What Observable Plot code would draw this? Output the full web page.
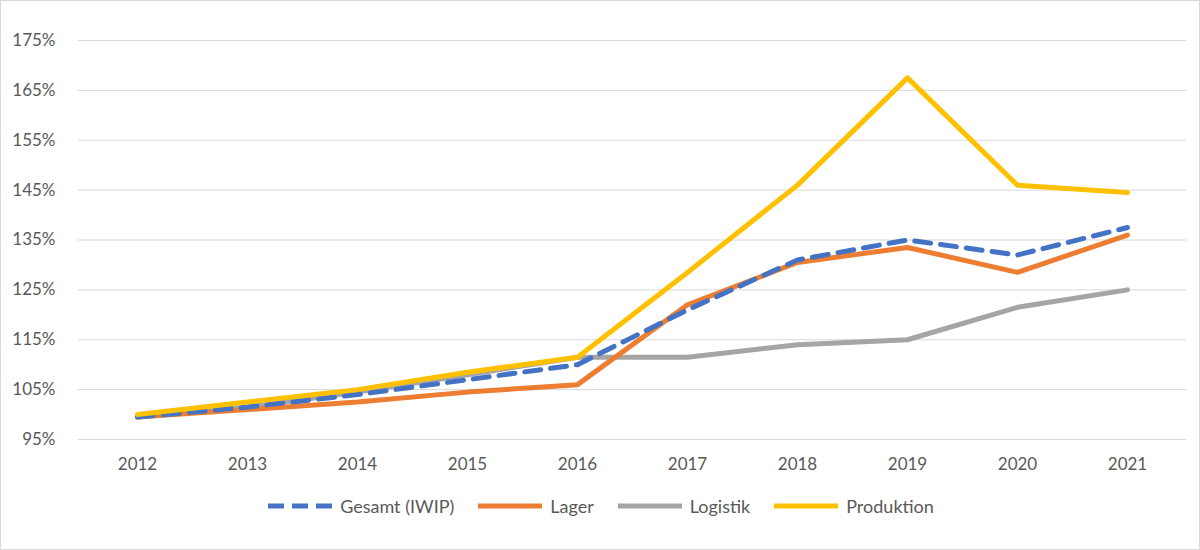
<!DOCTYPE html>
<html><head><meta charset="utf-8">
<script src="https://cdn.jsdelivr.net/npm/d3@7"></script>
<script src="https://cdn.jsdelivr.net/npm/@observablehq/plot@0.6"></script>
<style>
body{margin:0;font-family:Lato,"Liberation Sans",sans-serif;}
#wrap{width:1198px;height:548px;border:1px solid #d9d9d9;background:#fff;}
#chart svg text{font-size:17px;fill:#595959;font-family:Lato,"Liberation Sans",sans-serif;}
#legend{display:flex;justify-content:center;gap:22px;font-size:18px;color:#595959;margin-top:16px;}
#legend span{display:flex;align-items:center;gap:6px;}
</style></head><body>
<div id="wrap"><div id="chart"></div><div id="legend"></div></div>
<script>
const years = [2012,2013,2014,2015,2016,2017,2018,2019,2020,2021];
const gesamt = [99.5,101.5,104,107,110,121,131,135,132,137.5];
const lager = [99.5,101,102.5,104.5,106,122,130.5,133.5,128.5,136];
const logistik = [99.5,101.5,104.5,108,111.5,111.5,114,115,121.5,125];
const produktion = [100,102.5,105,108.5,111.5,128.5,146,167.5,146,144.5];
const yTicks = [95,105,115,125,135,145,155,165,175];
const series = [
  {name:"Gesamt (IWIP)", values:gesamt, color:"#4472C4", dash:"16,10"},
  {name:"Lager", values:lager, color:"#ED7D31", dash:null},
  {name:"Logistik", values:logistik, color:"#A5A5A5", dash:null},
  {name:"Produktion", values:produktion, color:"#FFC000", dash:null}
];
const drawOrder = [2,1,0,3];
const rows = s => years.map((y,i)=>({year:String(y), v:s.values[i]}));
const marks = [Plot.ruleY(yTicks,{stroke:"#d9d9d9"})];
for (const k of drawOrder){
  const s = series[k];
  marks.push(Plot.line(rows(s),{x:"year",y:"v",stroke:s.color,strokeWidth:5,strokeDasharray:s.dash,strokeLinejoin:"round"}));
}
const chart = Plot.plot({
  width:1198,height:478,marginLeft:77,marginRight:13,marginTop:39,marginBottom:40,
  x:{type:"point",domain:years.map(String),padding:0.5,label:null,tickSize:0,tickPadding:18},
  y:{domain:[95,175],ticks:yTicks,tickFormat:d=>d+"%",label:null,tickSize:0,tickPadding:23},
  marks
});
document.getElementById("chart").appendChild(chart);
const lg = document.getElementById("legend");
for (const s of series){
  const sp=document.createElement("span");
  sp.innerHTML=`<svg width="68" height="10"><line x1="2" y1="5" x2="66" y2="5" stroke="${s.color}" stroke-width="5" ${s.dash?'stroke-dasharray="16,8"':''}/></svg>${s.name}`;
  lg.appendChild(sp);
}
</script></body></html>
